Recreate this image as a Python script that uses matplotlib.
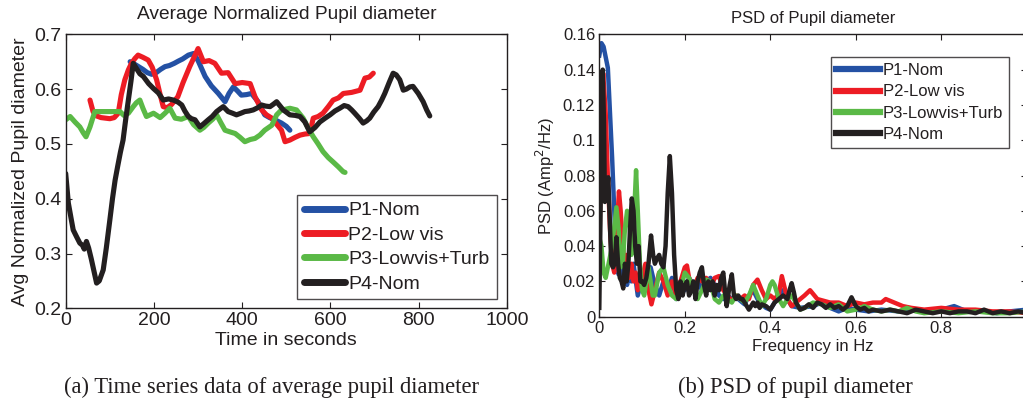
import matplotlib
matplotlib.use("Agg")
import matplotlib.pyplot as plt

# ---------------- data: time series (seconds, avg normalized pupil diameter)
p1_ts = [(146,0.650),(155,0.646),(165,0.641),(175,0.636),(185,0.630),(195,0.627),(205,0.630),
         (215,0.636),(225,0.641),(235,0.643),(246,0.647),(255,0.651),(265,0.655),(278,0.662),
         (290,0.665),(300,0.652),(316,0.623),(330,0.606),(346,0.592),(361,0.577),(370,0.592),
         (380,0.604),(390,0.596),(398,0.589),(410,0.590),(421,0.592),(436,0.577),(451,0.553),
         (462,0.548),(474,0.544),(489,0.538),(500,0.532),(508,0.525)]

p2_ts = [(55,0.580),(62,0.559),(70,0.551),(80,0.548),(90,0.547),(100,0.546),(110,0.548),(119,0.556),
         (126,0.590),(134,0.617),(142,0.635),(149,0.647),(157,0.656),(164,0.662),(175,0.658),(187,0.653),
         (196,0.640),(206,0.617),(214,0.590),(221,0.568),(230,0.566),(240,0.572),(254,0.586),(266,0.612),
         (281,0.641),(292,0.660),(300,0.674),(312,0.650),(325,0.652),(338,0.647),(353,0.629),(368,0.630),
         (384,0.610),(400,0.612),(418,0.610),(429,0.586),(444,0.562),(455,0.553),(467,0.547),(478,0.536),
         (489,0.525),(497,0.504),(508,0.507),(520,0.512),(531,0.516),(542,0.518),(553,0.519),(561,0.547),
         (572,0.550),(583,0.556),(595,0.568),(606,0.580),(618,0.584),(629,0.592),(648,0.594),(667,0.598),
         (678,0.620),(688,0.622),(697,0.629)]

p3_ts = [(0,0.544),(10,0.550),(21,0.540),(32,0.531),(40,0.520),(46,0.513),(55,0.531),(66,0.559),
         (80,0.559),(100,0.559),(123,0.559),(132,0.552),(142,0.556),(153,0.568),(160,0.575),(168,0.580),
         (175,0.565),(183,0.550),(191,0.553),(199,0.556),(214,0.548),(225,0.556),(236,0.565),(248,0.547),
         (262,0.545),(278,0.550),(290,0.535),(304,0.525),(313,0.530),(323,0.538),(333,0.545),(342,0.553),
         (352,0.538),(361,0.525),(372,0.522),(384,0.519),(395,0.512),(406,0.504),(418,0.508),(429,0.510),
         (440,0.516),(451,0.525),(467,0.534),(478,0.553),(489,0.562),(497,0.563),(508,0.565),(523,0.562),
         (538,0.547),(550,0.528),(561,0.513),(572,0.500),(583,0.486),(595,0.475),(606,0.467),(618,0.458),
         (629,0.449),(633,0.448)]

p4_ts = [(0,0.446),(6,0.392),(12,0.365),(17,0.343),(25,0.330),(32,0.319),(38,0.315),(42,0.308),
         (47,0.322),(52,0.310),(58,0.290),(64,0.268),(70,0.246),(76,0.250),(85,0.270),(92,0.310),
         (100,0.361),(106,0.400),(112,0.434),(118,0.460),(124,0.485),(130,0.507),(136,0.545),(142,0.580),
         (148,0.615),(153,0.647),(160,0.638),(168,0.628),(176,0.623),(188,0.610),(199,0.601),(210,0.593),
         (221,0.580),(233,0.582),(244,0.580),(255,0.576),(263,0.571),(270,0.560),(278,0.550),(285,0.546),
         (293,0.544),(304,0.531),(313,0.537),(323,0.544),(332,0.550),(342,0.559),(350,0.564),(357,0.568),
         (368,0.559),(378,0.556),(387,0.553),(397,0.556),(406,0.559),(415,0.560),(425,0.562),(435,0.566),
         (444,0.571),(453,0.569),(463,0.568),(470,0.572),(478,0.577),(485,0.570),(493,0.562),(508,0.553),
         (520,0.552),(531,0.550),(542,0.540),(553,0.522),(565,0.530),(576,0.540),(588,0.547),(599,0.553),
         (610,0.560),(621,0.565),(631,0.570),(640,0.568),(648,0.562),(655,0.556),(665,0.547),(674,0.538),
         (682,0.542),(689,0.547),(698,0.558),(708,0.568),(716,0.580),(723,0.592),(733,0.612),(742,0.629),
         (749,0.626),(757,0.617),(765,0.598),(772,0.600),(780,0.604),(787,0.605),(799,0.592),(810,0.577),
         (818,0.562),(825,0.551)]

# ---------------- data: PSD (Hz, Amp^2/Hz)
p1_psd = [(0.0,0.148),(0.005,0.155),(0.01,0.153),(0.02,0.141),(0.03,0.090),(0.035,0.060),(0.04,0.030),
          (0.045,0.024),(0.05,0.030),(0.055,0.022),(0.06,0.025),(0.065,0.018),(0.07,0.027),(0.075,0.020),
          (0.08,0.030),(0.09,0.012),(0.1,0.022),(0.11,0.018),(0.12,0.028),(0.13,0.018),(0.14,0.012),
          (0.15,0.020),(0.16,0.015),(0.17,0.022),(0.18,0.010),(0.19,0.020),(0.2,0.015),(0.21,0.022),
          (0.22,0.018),(0.23,0.021),(0.24,0.015),(0.25,0.020),(0.26,0.022),(0.27,0.018),(0.28,0.012),
          (0.29,0.010),(0.3,0.012),(0.31,0.010),(0.32,0.011),(0.33,0.009),(0.34,0.007),(0.35,0.012),
          (0.36,0.015),(0.37,0.010),(0.38,0.007),(0.39,0.005),(0.4,0.004),(0.41,0.008),(0.42,0.012),
          (0.43,0.015),(0.44,0.010),(0.45,0.006),(0.47,0.005),(0.5,0.006),(0.52,0.008),(0.54,0.005),
          (0.56,0.003),(0.58,0.005),(0.6,0.004),(0.63,0.003),(0.66,0.004),(0.7,0.003),(0.73,0.004),
          (0.76,0.003),(0.8,0.004),(0.83,0.006),(0.86,0.003),(0.9,0.003),(0.93,0.002),(0.96,0.003),
          (1.0,0.004)]

p2_psd = [(0.0,0.030),(0.005,0.120),(0.009,0.138),(0.015,0.115),(0.02,0.079),(0.025,0.050),(0.03,0.030),
          (0.035,0.025),(0.04,0.045),(0.046,0.071),(0.05,0.060),(0.055,0.040),(0.06,0.028),(0.065,0.035),
          (0.07,0.022),(0.075,0.030),(0.08,0.020),(0.085,0.025),(0.09,0.015),(0.095,0.020),(0.1,0.022),
          (0.108,0.030),(0.115,0.015),(0.122,0.007),(0.13,0.015),(0.14,0.025),(0.15,0.020),(0.16,0.012),
          (0.17,0.020),(0.18,0.012),(0.19,0.020),(0.2,0.028),(0.205,0.029),(0.21,0.022),(0.22,0.015),
          (0.23,0.022),(0.24,0.020),(0.25,0.022),(0.26,0.016),(0.27,0.022),(0.28,0.023),(0.29,0.015),
          (0.3,0.012),(0.31,0.009),(0.32,0.012),(0.33,0.010),(0.34,0.012),(0.35,0.010),(0.36,0.018),
          (0.37,0.021),(0.38,0.015),(0.39,0.010),(0.4,0.012),(0.41,0.010),(0.42,0.013),(0.427,0.023),
          (0.44,0.010),(0.45,0.006),(0.46,0.008),(0.48,0.012),(0.493,0.015),(0.51,0.010),(0.54,0.008),
          (0.56,0.008),(0.58,0.006),(0.6,0.008),(0.62,0.007),(0.64,0.008),(0.66,0.008),(0.67,0.010),
          (0.69,0.008),(0.71,0.006),(0.73,0.005),(0.76,0.004),(0.8,0.005),(0.84,0.004),(0.88,0.004),
          (0.92,0.003),(0.96,0.003),(1.0,0.002)]

p3_psd = [(0.0,0.045),(0.005,0.040),(0.01,0.025),(0.015,0.022),(0.02,0.028),(0.03,0.040),(0.04,0.062),
          (0.045,0.050),(0.05,0.028),(0.055,0.030),(0.06,0.050),(0.065,0.060),(0.07,0.055),(0.075,0.035),
          (0.08,0.050),(0.086,0.083),(0.09,0.060),(0.095,0.030),(0.1,0.015),(0.105,0.012),(0.11,0.020),
          (0.115,0.028),(0.12,0.020),(0.125,0.012),(0.13,0.012),(0.14,0.025),(0.15,0.028),(0.16,0.018),
          (0.17,0.012),(0.18,0.010),(0.19,0.015),(0.2,0.025),(0.21,0.022),(0.22,0.015),(0.23,0.010),
          (0.24,0.015),(0.25,0.021),(0.26,0.020),(0.27,0.010),(0.28,0.008),(0.29,0.012),(0.3,0.010),
          (0.31,0.008),(0.32,0.012),(0.33,0.010),(0.34,0.008),(0.35,0.012),(0.36,0.018),(0.37,0.012),
          (0.38,0.006),(0.39,0.010),(0.4,0.018),(0.405,0.020),(0.41,0.018),(0.42,0.010),(0.43,0.006),
          (0.44,0.010),(0.45,0.012),(0.46,0.008),(0.47,0.004),(0.48,0.005),(0.5,0.008),(0.52,0.007),
          (0.54,0.005),(0.56,0.007),(0.58,0.003),(0.6,0.004),(0.62,0.006),(0.64,0.004),(0.66,0.003),
          (0.68,0.004),(0.7,0.003),(0.72,0.005),(0.74,0.003),(0.76,0.002),(0.8,0.003),(0.84,0.002),
          (0.88,0.003),(0.92,0.002),(0.96,0.002),(1.0,0.003)]

p4_psd = [(0.0,0.005),(0.003,0.060),(0.006,0.120),(0.008,0.140),(0.011,0.110),(0.013,0.065),(0.016,0.070),
          (0.018,0.070),(0.021,0.079),(0.025,0.050),(0.028,0.030),(0.032,0.028),(0.036,0.030),(0.04,0.045),
          (0.044,0.030),(0.048,0.022),(0.052,0.020),(0.056,0.016),(0.06,0.030),(0.064,0.020),(0.068,0.030),
          (0.072,0.050),(0.076,0.067),(0.08,0.060),(0.084,0.040),(0.088,0.030),(0.092,0.040),(0.096,0.020),
          (0.1,0.020),(0.105,0.018),(0.11,0.022),(0.115,0.030),(0.121,0.046),(0.126,0.035),(0.13,0.030),
          (0.135,0.033),(0.14,0.035),(0.145,0.030),(0.15,0.028),(0.155,0.040),(0.16,0.070),(0.165,0.091),
          (0.17,0.070),(0.175,0.035),(0.18,0.015),(0.185,0.010),(0.19,0.020),(0.195,0.012),(0.2,0.018),
          (0.205,0.020),(0.21,0.012),(0.215,0.015),(0.22,0.020),(0.225,0.010),(0.23,0.020),(0.235,0.025),
          (0.24,0.028),(0.245,0.018),(0.25,0.012),(0.255,0.020),(0.26,0.015),(0.265,0.020),(0.27,0.012),
          (0.275,0.018),(0.28,0.015),(0.285,0.022),(0.29,0.025),(0.295,0.012),(0.298,0.006),(0.305,0.018),
          (0.31,0.024),(0.315,0.012),(0.32,0.010),(0.325,0.012),(0.33,0.010),(0.335,0.010),(0.34,0.008),
          (0.345,0.006),(0.35,0.004),(0.355,0.006),(0.36,0.008),(0.365,0.006),(0.37,0.008),(0.375,0.005),
          (0.38,0.007),(0.39,0.006),(0.4,0.004),(0.41,0.008),(0.42,0.010),(0.43,0.012),(0.44,0.010),
          (0.445,0.015),(0.45,0.019),(0.455,0.014),(0.46,0.008),(0.465,0.006),(0.47,0.004),(0.48,0.005),
          (0.49,0.007),(0.5,0.005),(0.51,0.008),(0.52,0.007),(0.53,0.005),(0.54,0.007),(0.55,0.005),
          (0.56,0.006),(0.57,0.004),(0.58,0.006),(0.59,0.011),(0.6,0.006),(0.61,0.004),(0.62,0.005),
          (0.63,0.003),(0.64,0.004),(0.66,0.003),(0.68,0.004),(0.7,0.003),(0.72,0.002),(0.74,0.004),
          (0.76,0.003),(0.78,0.002),(0.8,0.003),(0.82,0.002),(0.84,0.003),(0.86,0.003),(0.88,0.002),
          (0.9,0.004),(0.92,0.002),(0.94,0.003),(0.96,0.002),(0.98,0.003),(1.0,0.002)]

labels = ["P1-Nom", "P2-Low vis", "P3-Lowvis+Turb", "P4-Nom"]
colors = ["#2451a4", "#ed1c24", "#5ab946", "#231f20"]

ts_xticks = [0, 200, 400, 600, 800, 1000]
ts_yticks = [0.2, 0.3, 0.4, 0.5, 0.6, 0.7]
psd_xticks = [0, 0.2, 0.4, 0.6, 0.8, 1.0]
psd_xticklabels = ["0", "0.2", "0.4", "0.6", "0.8", ""]
psd_yticks = [0, 0.02, 0.04, 0.06, 0.08, 0.1, 0.12, 0.14, 0.16]
psd_yticklabels = ["0", "0.02", "0.04", "0.06", "0.08", "0.1", "0.12", "0.14", "0.16"]

plt.rcParams['font.family'] = ['Liberation Sans', 'DejaVu Sans']
txt = "#231f20"

W, H = 1023, 405
fig = plt.figure(figsize=(W / 100, H / 100), dpi=100)

def fx(p):
    return p / W

def fy(p):
    return 1 - p / H

def unzip(pts):
    return [p[0] for p in pts], [p[1] for p in pts]

# ---------------- left panel
l0, r0, t0, b0 = 65.7, 507.0, 34.3, 308.3
ax1 = fig.add_axes([fx(l0), fy(b0), (r0 - l0) / W, (b0 - t0) / H])
for pts, c, lab in zip([p1_ts, p2_ts, p3_ts, p4_ts], colors, labels):
    x, y = unzip(pts)
    ax1.plot(x, y, color=c, lw=3.7, label=lab, solid_capstyle='round', solid_joinstyle='round')
ax1.set_xlim(0, 1000)
ax1.set_ylim(0.2, 0.7)
ax1.set_xticks(ts_xticks)
ax1.set_yticks(ts_yticks)
ax1.set_xticklabels([str(v) for v in ts_xticks])
ax1.set_yticklabels([f"{v:.1f}" for v in ts_yticks])
ax1.tick_params(direction='in', top=True, right=True, length=4, width=0.8,
                labelsize=14, colors=txt, pad=3)
ax1.set_title("Average Normalized Pupil diameter", fontsize=13.8, color=txt, pad=11)
ax1.set_xlabel("Time in seconds", fontsize=14, color=txt, labelpad=2)
ax1.set_ylabel("Avg Normalized Pupil diameter", fontsize=14, color=txt, labelpad=4)
for s in ax1.spines.values():
    s.set_linewidth(1.0)
    s.set_color(txt)
leg1 = ax1.legend(loc='upper left', bbox_to_anchor=(0.524, 0.4135), borderaxespad=0,
                  fontsize=14, frameon=True, fancybox=False, edgecolor=txt,
                  handlelength=2.1, handletextpad=0.2, labelspacing=0.35, borderpad=0.35)
leg1.get_frame().set_linewidth(1.0)
for h in leg1.get_lines():
    h.set_linewidth(5)
for t in leg1.get_texts():
    t.set_color(txt)

# ---------------- right panel
l1, r1, t1, b1 = 599.3, 1026.8, 34.3, 316.7
ax2 = fig.add_axes([fx(l1), fy(b1), (r1 - l1) / W, (b1 - t1) / H])
for pts, c, lab in zip([p1_psd, p2_psd, p3_psd, p4_psd], colors, labels):
    x, y = unzip(pts)
    ax2.plot(x, y, color=c, lw=3.2, label=lab, solid_joinstyle='round')
ax2.set_xlim(0, 1.0)
ax2.set_ylim(0, 0.16)
ax2.set_xticks(psd_xticks)
ax2.set_xticklabels(psd_xticklabels)
ax2.set_yticks(psd_yticks)
ax2.set_yticklabels(psd_yticklabels)
ax2.tick_params(direction='in', top=True, right=True, length=4, width=0.8,
                labelsize=12, colors=txt, pad=3)
ax2.set_title("PSD of Pupil diameter", fontsize=12, color=txt, pad=8)
ax2.set_xlabel("Frequency in Hz", fontsize=12, color=txt, labelpad=2)
ax2.set_ylabel("PSD (Amp$^2$/Hz)", fontsize=12, color=txt, labelpad=4)
for s in ax2.spines.values():
    s.set_linewidth(1.0)
    s.set_color(txt)
leg2 = ax2.legend(loc='upper left', bbox_to_anchor=(0.541, 0.9186), borderaxespad=0,
                  fontsize=12, frameon=True, fancybox=False, edgecolor=txt,
                  handlelength=2.6, handletextpad=0.2, labelspacing=0.38, borderpad=0.35)
leg2.get_frame().set_linewidth(1.0)
for h in leg2.get_lines():
    h.set_linewidth(4.5)
for t in leg2.get_texts():
    t.set_color(txt)

# ---------------- captions
cap_font = ['Liberation Serif', 'DejaVu Serif']
fig.text(fx(272), fy(393), "(a) Time series data of average pupil diameter",
         ha='center', va='baseline', fontsize=16.3, family=cap_font, color=txt)
fig.text(fx(795), fy(393), "(b) PSD of pupil diameter",
         ha='center', va='baseline', fontsize=16.3, family=cap_font, color=txt)

fig.savefig("out.png", dpi=100)
